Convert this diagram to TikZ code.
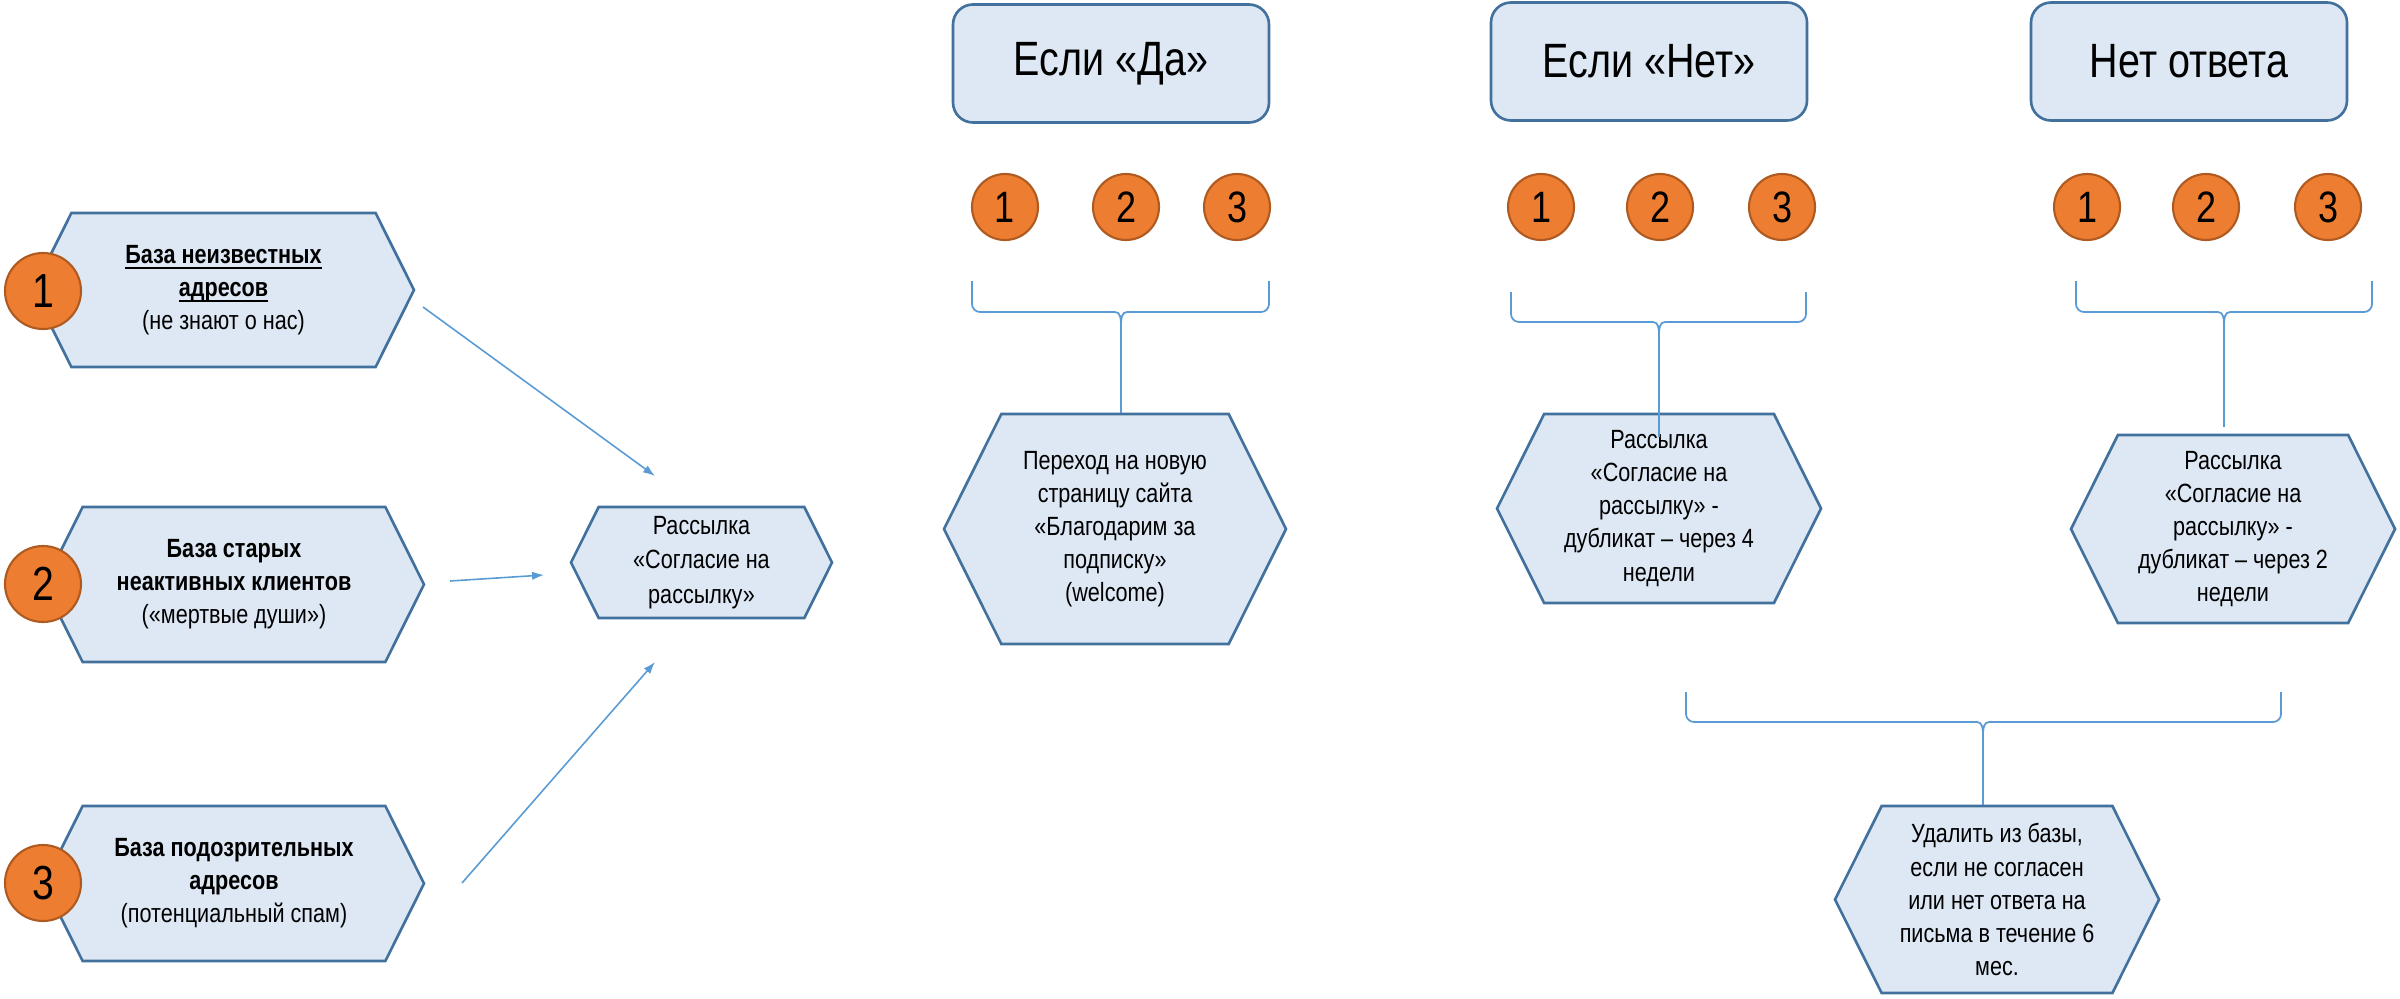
\documentclass[tikz,border=0pt]{standalone}
\usepackage{fontspec}
\setmainfont{Liberation Sans}[FakeStretch=0.82]
\usetikzlibrary{shapes.symbols,arrows.meta}
\definecolor{hexfill}{HTML}{DDE8F4}
\definecolor{hexline}{HTML}{41719C}
\definecolor{numfill}{HTML}{ED7D31}
\definecolor{numline}{HTML}{AE5A21}
\definecolor{linkblue}{HTML}{5B9BD5}
\newcommand{\hexfont}{\fontsize{7.5}{9.4}\selectfont}
\newcommand{\underlined}[1]{\setbox0=\hbox{#1}\rlap{\rule[-1.6pt]{\wd0}{0.5pt}}\box0}
% curly bracket: tip name, left x, right x, tip x, top y, bar y
\newcommand{\groupbrace}[6]{%
  \draw[bracket] (#2,#5) -- (#2,#6-8) to[out=-90,in=180] (#2+8,#6)
    -- (#4-6,#6) to[out=0,in=90] (#4,#6+12) coordinate (#1);
  \draw[bracket] (#3,#5) -- (#3,#6-8) to[out=-90,in=0] (#3-8,#6)
    -- (#4+6,#6) to[out=180,in=90] (#4,#6+12);
}

\begin{document}
\begin{tikzpicture}[x=0.1mm,y=-0.1mm,
  hexa/.style={signal, signal to=east and west, signal pointer angle=127,
    draw=hexline, fill=hexfill, line width=0.75pt, inner sep=0pt,
    align=center, font=\hexfont},
  askbox/.style={rectangle, rounded corners=2mm, draw=hexline, fill=hexfill,
    line width=0.75pt, minimum width=31.6mm, minimum height=11.8mm,
    font=\fontsize{13.7}{16}\selectfont},
  bignum/.style={circle, draw=numline, fill=numfill, line width=0.6pt,
    minimum size=7.6mm, inner sep=0pt, font=\fontsize{13.6}{16}\selectfont},
  smallnum/.style={circle, draw=numline, fill=numfill, line width=0.6pt,
    minimum size=6.6mm, inner sep=0pt, font=\fontsize{12.5}{15}\selectfont},
  bracket/.style={draw=linkblue, line width=0.5pt},
  link/.style={draw=linkblue, line width=0.45pt, -{Latex[length=3.4pt,width=2.4pt]}}]

  \path[use as bounding box, fill=white] (0,0) rectangle (2400,998);

  %% address bases
  \node[hexa, minimum width=38.1mm, minimum height=15.4mm] (base1) at (223.5,290)
    {\underlined{\textbf{База неизвестных}}\\\underlined{\textbf{адресов}}\\(не знают о нас)};
  \node[hexa, minimum width=38mm, minimum height=15.5mm] (base2) at (234,584.5)
    {\textbf{База старых}\\\textbf{неактивных клиентов}\\(«мертвые души»)};
  \node[hexa, minimum width=38mm, minimum height=15.5mm] (base3) at (234,883.5)
    {\textbf{База подозрительных}\\\textbf{адресов}\\(потенциальный спам)};
  \node[bignum] (n1) at (43,291) {1};
  \node[bignum] (n2) at (43,584) {2};
  \node[bignum] (n3) at (43,883) {3};

  %% mailing
  \node[hexa, minimum width=26.1mm, minimum height=11.1mm,
    font=\fontsize{7.5}{9.9}\selectfont] (mail) at (701.5,562.5)
    {Рассылка\\«Согласие на\\рассылку»};
  \coordinate (a1s) at (423,307);
  \coordinate (a1e) at (655,476);
  \coordinate (a2s) at (450,581);
  \coordinate (a2e) at (544,575);
  \coordinate (a3s) at (462,883);
  \coordinate (a3e) at (655,662);
  \draw[link] (a1s) -- (a1e);
  \draw[link] (a2s) -- (a2e);
  \draw[link] (a3s) -- (a3e);

  %% answers
  \node[askbox] (yes) at (1111,63.5) {Если «Да»};
  \node[askbox] (no) at (1649,61.5) {Если «Нет»};
  \node[askbox] (none) at (2189,61.5) {Нет ответа};

  \node[smallnum] (yes1) at (1005,207) {1};
  \node[smallnum] (yes2) at (1126,207) {2};
  \node[smallnum] (yes3) at (1237,207) {3};
  \node[smallnum] (no1) at (1541,207) {1};
  \node[smallnum] (no2) at (1660,207) {2};
  \node[smallnum] (no3) at (1782,207) {3};
  \node[smallnum] (none1) at (2087,207) {1};
  \node[smallnum] (none2) at (2206,207) {2};
  \node[smallnum] (none3) at (2328,207) {3};

  \groupbrace{yestip}{972}{1269}{1121}{281}{312}
  \groupbrace{notip}{1511}{1806}{1659}{292}{322}
  \groupbrace{nonetip}{2076}{2372}{2224}{281}{312}

  %% actions
  \node[hexa, minimum width=34.2mm, minimum height=23mm] (welcome) at (1115,529)
    {Переход на новую\\страницу сайта\\«Благодарим за\\подписку»\\(welcome)};
  \node[hexa, minimum width=32.4mm, minimum height=18.9mm] (dup4) at (1659,508.5)
    {Рассылка\\«Согласие на\\рассылку» -\\дубликат – через 4\\недели};
  \node[hexa, minimum width=32.4mm, minimum height=18.8mm] (dup2) at (2233,529)
    {Рассылка\\«Согласие на\\рассылку» -\\дубликат – через 2\\недели};
  \draw[bracket] (yestip) -- (yestip |- welcome.north);
  \draw[bracket] (notip) -- ([yshift=-2.4mm]notip |- dup4.north);
  \draw[bracket] (nonetip) -- ([yshift=0.7mm]nonetip |- dup2.north);

  %% removal
  \groupbrace{deltip}{1686}{2281}{1983}{692}{722}
  \node[hexa, minimum width=32.4mm, minimum height=18.7mm] (del) at (1997,899.5)
    {Удалить из базы,\\если не согласен\\или нет ответа на\\письма в течение 6\\мес.};
  \draw[bracket] (deltip) -- (deltip |- del.north);

\end{tikzpicture}
\end{document}
